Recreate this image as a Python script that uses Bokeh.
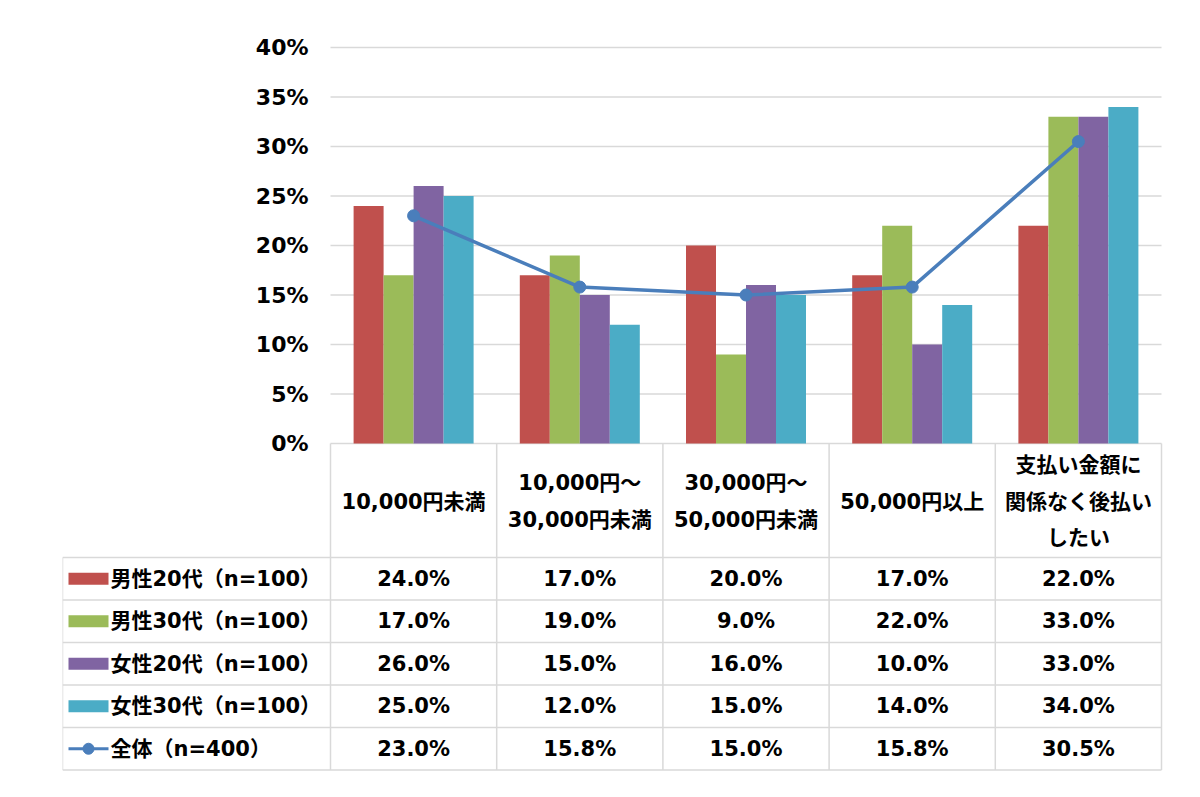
import numpy as np
from bokeh.plotting import figure
from bokeh.models import Range1d, FixedTicker, LinearAxis, PrintfTickFormatter
from bokeh.core.properties import value
from bokeh.embed import file_html
from bokeh.resources import INLINE

# ---------------- data ----------------
categories = ["10,000円未満", "10,000円～\n30,000円未満", "30,000円～\n50,000円未満",
              "50,000円以上", "支払い金額に\n関係なく後払い\nしたい"]
series_names = ["男性20代（n=100）", "男性30代（n=100）", "女性20代（n=100）", "女性30代（n=100）"]
male20 = [24.0, 17.0, 20.0, 17.0, 22.0]
male30 = [17.0, 19.0, 9.0, 22.0, 33.0]
female20 = [26.0, 15.0, 16.0, 10.0, 33.0]
female30 = [25.0, 12.0, 15.0, 14.0, 34.0]
total_name = "全体（n=400）"
total = [23.0, 15.8, 15.0, 15.8, 30.5]
y_ticks = [0, 5, 10, 15, 20, 25, 30, 35, 40]

bar_colors = ["#C0504D", "#9BBB59", "#8064A2", "#4BACC6"]
line_color = "#4A7EBB"
grid_color = "#D9D9D9"
FONT_NAME = "DejaVu Sans, Noto Sans CJK JP"
FONT = value(FONT_NAME)
FS = "21px"

# ---------------- layout (page pixels) ----------------
F_LEFT, F_RIGHT, F_TOP, F_BOTTOM = 62, 1163, 30, 772
PLOT_L, PLOT_R = 330, 1161
Y0_PX, Y40_PX = 443, 47
ncat = len(categories)
pxu = (PLOT_R - PLOT_L) / ncat
pyu = (Y0_PX - Y40_PX) / 40.0


def xpx(px):
    return (px - PLOT_L) / pxu


p = figure(frame_width=F_RIGHT - F_LEFT, frame_height=F_BOTTOM - F_TOP,
           min_border_left=F_LEFT, min_border_right=10,
           min_border_top=F_TOP, min_border_bottom=10,
           x_range=Range1d(xpx(F_LEFT), xpx(F_RIGHT)),
           y_range=Range1d(-(F_BOTTOM - Y0_PX) / pyu, 40 + (Y40_PX - F_TOP) / pyu),
           x_axis_location=None, y_axis_location=None,
           output_backend="svg", toolbar_location=None, tools="")
p.extra_y_ranges = {"tbl": Range1d(start=F_BOTTOM, end=F_TOP)}
p.outline_line_color = None
p.xgrid.visible = False
p.ygrid.visible = False

# y axis
yax = LinearAxis(fixed_location=0, ticker=FixedTicker(ticks=y_ticks),
                 formatter=PrintfTickFormatter(format="%d%%"))
yax.axis_line_color = None
yax.major_tick_line_color = None
yax.minor_tick_line_color = None
yax.major_label_standoff = 16
yax.major_label_text_font = FONT_NAME
yax.major_label_text_font_style = "bold"
yax.major_label_text_font_size = "22px"
yax.major_label_text_color = "#000000"
p.add_layout(yax, "left")

# grid lines
p.segment(x0=[0] * len(y_ticks), x1=[ncat] * len(y_ticks), y0=y_ticks, y1=y_ticks,
          line_color=grid_color, line_width=1.5)

# bars
centers = np.arange(ncat) + 0.5
bw = 30 / pxu
series = [male20, male30, female20, female30]
for k, (vals, col) in enumerate(zip(series, bar_colors)):
    p.vbar(x=centers + (k - 1.5) * bw, top=vals, bottom=0, width=bw,
           fill_color=col, line_color=None)

# total line
p.line(x=centers, y=total, line_color=line_color, line_width=3.5)
p.scatter(x=centers, y=total, size=12, fill_color=line_color, line_color=line_color)

# ---------------- table ----------------
HDR_TOP, HDR_BOT, ROW_H = 443, 557, 42.5
nrows = len(series) + 1
row_lines = [HDR_BOT + ROW_H * r for r in range(nrows + 1)]
tbl_bottom = row_lines[-1]
# horizontal
p.segment(x0=[xpx(F_LEFT)] * len(row_lines), x1=[ncat] * len(row_lines),
          y0=row_lines, y1=row_lines, y_range_name="tbl",
          line_color=grid_color, line_width=1.5)
# vertical
p.segment(x0=list(range(ncat + 1)), x1=list(range(ncat + 1)),
          y0=[HDR_TOP] * (ncat + 1), y1=[tbl_bottom] * (ncat + 1),
          y_range_name="tbl", line_color=grid_color, line_width=1.5)
p.segment(x0=[xpx(F_LEFT)], x1=[xpx(F_LEFT)], y0=[HDR_BOT], y1=[tbl_bottom],
          y_range_name="tbl", line_color=grid_color, line_width=1.5)

# header text
hx, hy, ht = [], [], []
hc = (HDR_TOP + HDR_BOT) / 2 + 1
for i, c in enumerate(categories):
    lines = c.split("\n")
    n = len(lines)
    for j, t in enumerate(lines):
        hx.append(i + 0.5)
        hy.append(hc + (j - (n - 1) / 2) * 36.5)
        ht.append(t)
p.text(x=hx, y=hy, text=ht, y_range_name="tbl", text_font=FONT,
       text_font_style="bold", text_font_size=FS, text_color="#000000",
       text_align="center", text_baseline="middle")

# values
all_rows = series + [total]
vx, vy, vt = [], [], []
for r, vals in enumerate(all_rows):
    for i, v in enumerate(vals):
        vx.append(i + 0.5)
        vy.append(HDR_BOT + ROW_H * (r + 0.5))
        vt.append(f"{v:.1f}%")
p.text(x=vx, y=vy, text=vt, y_range_name="tbl", text_font=FONT,
       text_font_style="bold", text_font_size=FS, text_color="#000000",
       text_align="center", text_baseline="middle")

# row labels with legend keys
row_centers = [HDR_BOT + ROW_H * (r + 0.5) for r in range(nrows)]
p.rect(x=[xpx(88)] * len(series), y=row_centers[:len(series)], width=40, height=12,
       width_units="screen", height_units="screen", y_range_name="tbl",
       fill_color=bar_colors, line_color=None)
p.segment(x0=[xpx(68)], x1=[xpx(108)], y0=[row_centers[-1]], y1=[row_centers[-1]],
          y_range_name="tbl", line_color=line_color, line_width=3)
p.scatter(x=[xpx(88)], y=[row_centers[-1]], size=11, y_range_name="tbl",
          fill_color=line_color, line_color=line_color)
p.text(x=[xpx(110)] * nrows, y=row_centers, text=series_names + [total_name],
       y_range_name="tbl", text_font=FONT, text_font_style="bold",
       text_font_size=FS, text_color="#000000",
       text_align="left", text_baseline="middle")

open("out.html", "w").write(file_html(p, INLINE))
